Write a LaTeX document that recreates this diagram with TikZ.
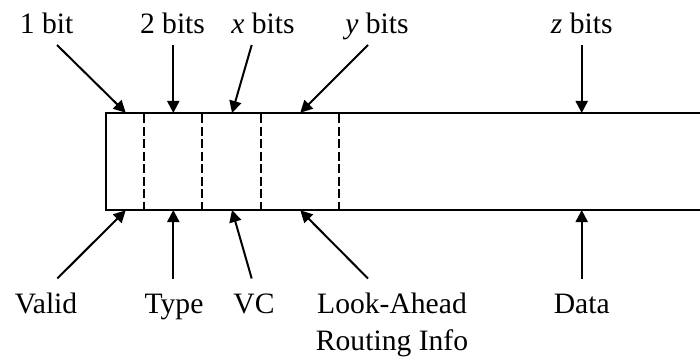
\documentclass[tikz,border=0pt]{standalone}
\usepackage{fontspec}
\setmainfont{Liberation Serif}
\usetikzlibrary{arrows.meta}
\begin{document}
\begin{tikzpicture}[x=0.5pt,y=-0.5pt,
  lbl/.style={inner sep=0pt, anchor=base, align=center, font=\fontsize{14.8}{18.5}\selectfont},
  frame/.style={line width=0.65pt, black},
  divider/.style={line width=1pt, dash pattern=on 4.5pt off 1.75pt},
  pointer/.style={line width=1pt, -{Triangle[length=6pt,width=6pt]}, shorten >=-0.5pt}]
\useasboundingbox (0,0) rectangle (700,358);
% frame
\begin{scope}
\clip (0,0) rectangle (700,358);
\draw[frame] (720,113) -- (106,113) -- (106,210) -- (720,210);
\end{scope}
% dividers
\foreach \xx/\nm in {144.3/d1,202.3/d2,261/d3,339/d4}{
  \coordinate (\nm t) at (\xx,114);
  \coordinate (\nm b) at (\xx,209.5);
  \draw[divider] (\nm t) -- (\nm b);
}
% top labels
\node[lbl] (t1) at (46.7,33.3) {1 bit};
\node[lbl] (t2) at (172.5,33.3) {2 bits};
\node[lbl] (t3) at (263,33.3) {\textit{x} bits};
\node[lbl] (t4) at (377,33.3) {\textit{y} bits};
\node[lbl] (t5) at (581.7,33.3) {\textit{z} bits};
% bottom labels
\node[lbl] (b1) at (46,313.3) {Valid};
\node[lbl] (b2) at (174,313.3) {Type};
\node[lbl] (b3) at (254,313.3) {VC};
\node[lbl] (b4) at (392,350.3) {Look-Ahead\\Routing Info};
\node[lbl] (b5) at (581.7,313.3) {Data};
% arrow ends
\coordinate (s1) at (57,45);   \coordinate (e1) at (125,112);
\coordinate (s2) at (173.3,45);\coordinate (e2) at (173.3,112);
\coordinate (s3) at (251.7,45);\coordinate (e3) at (232.3,112);
\coordinate (s4) at (368,45);  \coordinate (e4) at (301,112);
\coordinate (s5) at (581.7,45);\coordinate (e5) at (581.7,112);
\coordinate (u1) at (57.3,278.5); \coordinate (f1) at (125,211);
\coordinate (u2) at (173.3,278.5);\coordinate (f2) at (173.3,211);
\coordinate (u3) at (251.7,278.5);\coordinate (f3) at (232.3,211);
\coordinate (u4) at (368,278.5);  \coordinate (f4) at (301,211);
\coordinate (u5) at (581.7,278.5);\coordinate (f5) at (581.7,211);
\foreach \i in {1,...,5}{
  \draw[pointer] (s\i) -- (e\i);
  \draw[pointer] (u\i) -- (f\i);
}
\end{tikzpicture}
\end{document}
